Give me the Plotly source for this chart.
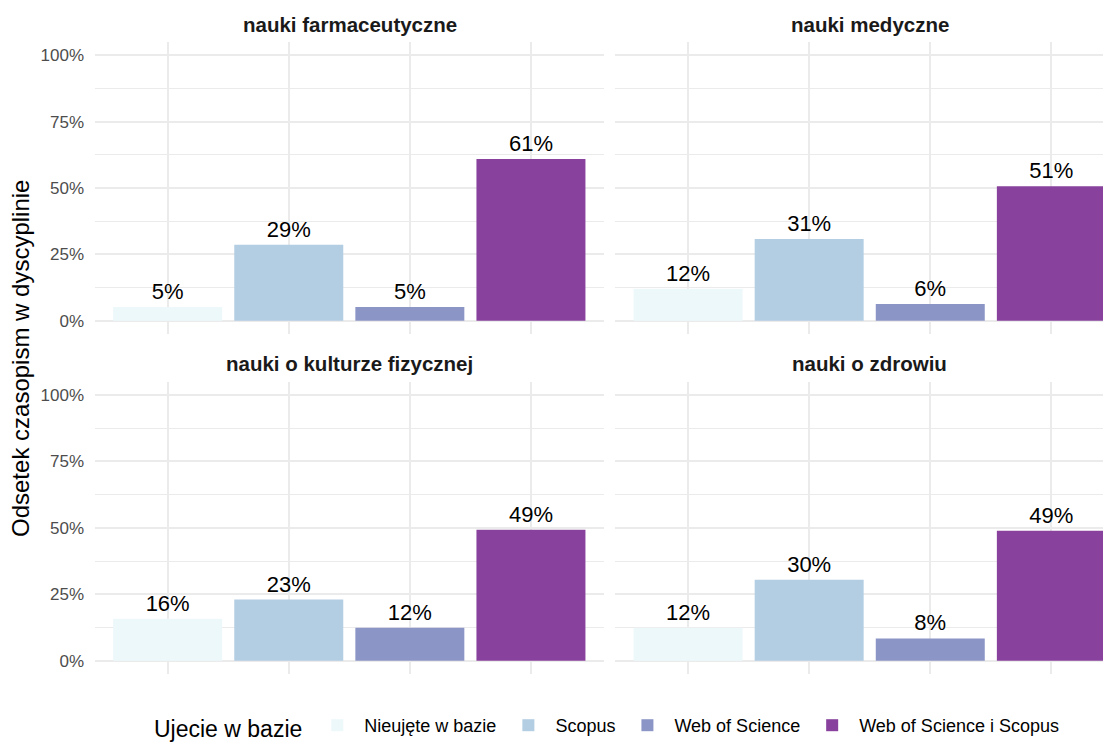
import plotly.graph_objects as go

panels = ["nauki farmaceutyczne", "nauki medyczne", "nauki o kulturze fizycznej", "nauki o zdrowiu"]
categories = ["Nieujęte w bazie", "Scopus", "Web of Science", "Web of Science i Scopus"]
colors = ["#EDF8FB", "#B3CDE3", "#8C96C6", "#88419D"]

v_farm = [0.052, 0.286, 0.052, 0.609]
v_med = [0.120, 0.308, 0.063, 0.507]
v_kf = [0.158, 0.230, 0.124, 0.493]
v_zdr = [0.124, 0.305, 0.084, 0.489]
values = [v_farm, v_med, v_kf, v_zdr]

y_ticks = [0, 0.25, 0.5, 0.75, 1.0]
y_ticktext = ["0%", "25%", "50%", "75%", "100%"]

FONT = "Liberation Sans, Arial, Helvetica, sans-serif"
GRID = "#EBEBEB"

fig = go.Figure()
for p, vals in enumerate(values):
    ax = "" if p == 0 else str(p + 1)
    for c, cat in enumerate(categories):
        fig.add_trace(go.Bar(
            x=[cat], y=[vals[c]],
            name=cat, legendgroup=cat, showlegend=(p == 0),
            marker=dict(color=colors[c], line=dict(width=0)),
            width=0.9,
            text=[f"{round(vals[c]*100):.0f}%"],
            textposition="outside",
            textfont=dict(size=22, color="black", family=FONT),
            cliponaxis=False,
            xaxis="x" + ax, yaxis="y" + ax,
            hoverinfo="skip",
        ))

# the page body adds an 8px offset; work in page pixels and convert
OFF = 8
W, H = 1111 - OFF, 742 - OFF
ml, mr, mt, mb = 95 - OFF, 0, 42 - OFF, 68
pw, ph = W - ml - mr, H - mt - mb

def px_x(x):
    return (x - OFF - ml) / pw

def px_y(y):
    return (H - mb - (y - OFF)) / ph

xdoms = [[0, px_x(603.6)], [px_x(615.4), 1.0]]
xranges = [[-0.6, 3.6], [-0.6, -0.6 + (1111 - 615.4) / 121.1]]
ydoms = [[px_y(334.0), 1.0], [0.0, px_y(381.7)]]

layout = dict(
    width=W, height=H,
    margin=dict(l=ml, r=mr, t=mt, b=mb, autoexpand=False),
    paper_bgcolor="white", plot_bgcolor="white",
    barmode="overlay",
    font=dict(family=FONT, color="black"),
    showlegend=True,
    legend=dict(
        orientation="h", x=px_x(152), xanchor="left", y=px_y(727), yanchor="middle",
        title=dict(text="Ujecie w bazie", font=dict(size=23, color="black"), side="left"),
        font=dict(size=18, color="black"),
        itemsizing="constant", itemwidth=44, traceorder="normal",
    ),
    annotations=[],
)

for p in range(4):
    ax = "" if p == 0 else str(p + 1)
    col, row = p % 2, p // 2
    layout["xaxis" + ax] = dict(
        domain=xdoms[col], range=xranges[col], type="category",
        categoryorder="array", categoryarray=categories,
        showticklabels=False, showgrid=True, gridcolor=GRID, gridwidth=1.5,
        zeroline=False, showline=False, ticks="", anchor="y" + ax, fixedrange=True,
    )
    layout["yaxis" + ax] = dict(
        domain=ydoms[row], range=[-0.05, 1.05],
        tickvals=y_ticks, ticktext=y_ticktext if col == 0 else None,
        showticklabels=(col == 0),
        tickfont=dict(size=17, color="#4D4D4D"),
        ticklabelstandoff=10,
        showgrid=True, gridcolor=GRID, gridwidth=1.5,
        minor=dict(tickvals=[0.125, 0.375, 0.625, 0.875], showgrid=True, gridcolor=GRID, gridwidth=0.8),
        zeroline=False, showline=False, ticks="", anchor="x" + ax, fixedrange=True,
    )
    xc = (px_x(95.4) + px_x(603.6)) / 2 if col == 0 else (px_x(615.4) + px_x(615.4 + 121.1 * 4.2)) / 2
    layout["annotations"].append(dict(
        text=f"<b>{panels[p]}</b>", x=xc, xref="paper", xanchor="center",
        y=px_y(24 if row == 0 else 363), yref="paper", yanchor="middle",
        showarrow=False, font=dict(size=20.5, color="#1A1A1A"),
    ))

layout["annotations"].append(dict(
    text="Odsetek czasopism w dyscyplinie", textangle=-90,
    x=px_x(20), xref="paper", xanchor="center",
    y=px_y(359), yref="paper", yanchor="middle",
    showarrow=False, font=dict(size=24, color="black"),
))

fig.update_layout(**layout)
fig.write_html("out.html")
